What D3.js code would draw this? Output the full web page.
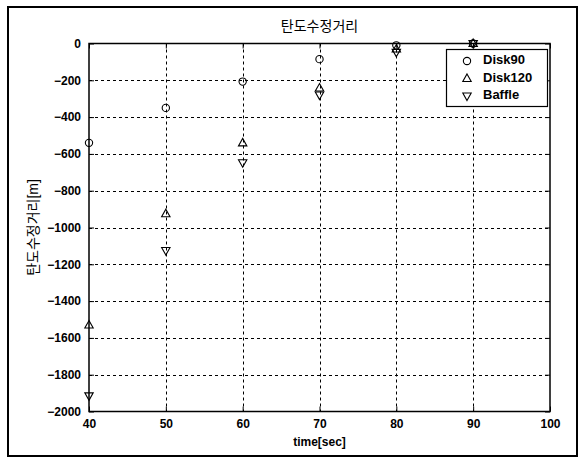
<!DOCTYPE html>
<html>
<head>
<meta charset="utf-8">
<script src="https://cdn.jsdelivr.net/npm/d3@7"></script>
<style>
  html, body { margin: 0; padding: 0; background: #fff; }
  svg { display: block; }
  text { font-family: "Liberation Sans", Arial, "Noto Sans CJK KR", sans-serif; fill: #000; }
</style>
</head>
<body>
<svg id="chart" width="581" height="458"></svg>
<script>
// Measurement times (sec)
const times = [40, 50, 60, 70, 80, 90];
// Ballistic correction distance (m) per configuration
const disk90  = [-540, -350, -207, -85, -10, 0];
const disk120 = [-1530, -925, -540, -242, -30, 0];
const baffle  = [-1915, -1125, -648, -280, -48, 0];

const xTicks = [40, 50, 60, 70, 80, 90, 100];
const yTicks = [0, -200, -400, -600, -800, -1000, -1200, -1400, -1600, -1800, -2000];

const seriesNames = ["Disk90", "Disk120", "Baffle"];
const seriesData = [disk90, disk120, baffle];
const seriesMarkers = ["circle", "up", "down"];

const titleText = "탄도수정거리";
const yLabelText = "탄도수정거리[m]";
const xLabelText = "time[sec]";

const svg = d3.select("#chart");
const W = 581, H = 458;
const plot = { left: 89, right: 550, top: 43.5, bottom: 411.5 };

const x = d3.scaleLinear().domain([40, 100]).range([plot.left, plot.right]);
const y = d3.scaleLinear().domain([-2000, 0]).range([plot.bottom, plot.top]);

// Figure frame
svg.append("rect")
  .attr("x", 8).attr("y", 7).attr("width", 569).attr("height", 449)
  .attr("fill", "#fff").attr("stroke", "#000").attr("stroke-width", 2);

// Grid lines (dotted)
const grid = svg.append("g").attr("stroke", "#000").attr("stroke-width", 1)
  .attr("stroke-dasharray", "3,3");
grid.selectAll("line.gx").data(xTicks.slice(1, -1)).join("line")
  .attr("x1", d => Math.round(x(d)) + 0.5).attr("x2", d => Math.round(x(d)) + 0.5)
  .attr("y1", plot.top).attr("y2", plot.bottom);
grid.selectAll("line.gy").data(yTicks.slice(1, -1)).join("line")
  .attr("y1", d => Math.round(y(d)) + 0.5).attr("y2", d => Math.round(y(d)) + 0.5)
  .attr("x1", plot.left).attr("x2", plot.right);

// Axes with inward ticks on all sides
const axisBottom = d3.axisBottom(x).tickValues(xTicks).tickSize(-5).tickPadding(8).tickFormat(d3.format("d"));
const axisTop = d3.axisTop(x).tickValues(xTicks).tickSize(-5).tickFormat("");
const axisLeft = d3.axisLeft(y).tickValues(yTicks).tickSize(-5).tickPadding(8).tickFormat(d3.format("d"));
const axisRight = d3.axisRight(y).tickValues(yTicks).tickSize(-5).tickFormat("");

function styleAxis(g) {
  g.select(".domain").remove();
  g.selectAll(".tick line").attr("stroke", "#000");
  g.selectAll(".tick text").attr("font-size", 12).attr("font-weight", "bold")
    .attr("font-family", "'Liberation Sans', Arial, sans-serif");
}
svg.append("g").attr("transform", `translate(0,${plot.bottom})`).call(axisBottom).call(styleAxis);
svg.append("g").attr("transform", `translate(0,${plot.top})`).call(axisTop).call(styleAxis);
svg.append("g").attr("transform", `translate(${plot.left},0)`).call(axisLeft).call(styleAxis);
svg.append("g").attr("transform", `translate(${plot.right},0)`).call(axisRight).call(styleAxis);

// Axes box
svg.append("rect")
  .attr("x", plot.left).attr("y", plot.top)
  .attr("width", plot.right - plot.left).attr("height", plot.bottom - plot.top)
  .attr("fill", "none").attr("stroke", "#000").attr("stroke-width", 1.5);

// Marker shapes
function markerPath(kind) {
  if (kind === "circle") return d3.symbol().type(d3.symbolCircle).size(42)();
  if (kind === "up") return "M0,-4.5L4.2,3L-4.2,3Z";
  return "M0,4.5L4.2,-3L-4.2,-3Z";
}

seriesData.forEach((vals, i) => {
  svg.append("g").selectAll("path").data(times.map((t, j) => [t, vals[j]])).join("path")
    .attr("d", markerPath(seriesMarkers[i]))
    .attr("transform", d => `translate(${x(d[0])},${y(d[1])})`)
    .attr("fill", "none").attr("stroke", "#000").attr("stroke-width", 1.1);
});

// Title and axis labels
svg.append("text").attr("x", (plot.left + plot.right) / 2).attr("y", 31)
  .attr("text-anchor", "middle").attr("font-size", 14)
  .attr("font-family", "'Noto Sans CJK KR', sans-serif").text(titleText);
svg.append("text").attr("transform", `translate(34,${(plot.top + plot.bottom) / 2}) rotate(-90)`)
  .attr("text-anchor", "middle").attr("dominant-baseline", "middle").attr("font-size", 14)
  .attr("font-family", "'Noto Sans CJK KR', sans-serif").text(yLabelText);
svg.append("text").attr("x", (plot.left + plot.right) / 2).attr("y", 446)
  .attr("text-anchor", "middle").attr("font-size", 12).attr("font-weight", "bold").text(xLabelText);

// Legend
const legend = svg.append("g");
legend.append("rect").attr("x", 446.5).attr("y", 49.5).attr("width", 101).attr("height", 57)
  .attr("fill", "#fff").attr("stroke", "#000").attr("stroke-width", 1.2);
seriesNames.forEach((name, i) => {
  const cy = 61 + i * 17.5;
  legend.append("path").attr("d", markerPath(seriesMarkers[i]))
    .attr("transform", `translate(467,${cy})`)
    .attr("fill", "none").attr("stroke", "#000").attr("stroke-width", 1.1);
  legend.append("text").attr("x", 483).attr("y", cy).attr("dominant-baseline", "middle")
    .attr("font-size", 13).attr("font-weight", "bold").text(name);
});
</script>
</body>
</html>
